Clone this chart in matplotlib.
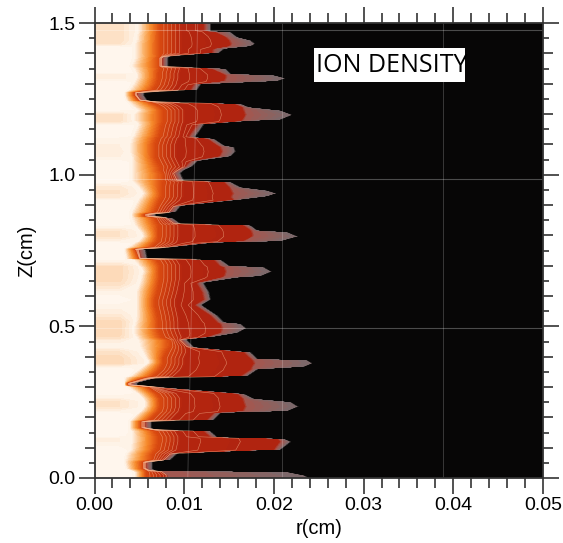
import numpy as np
import matplotlib
matplotlib.use('Agg')
import matplotlib.pyplot as plt
from matplotlib.colors import LinearSegmentedColormap
from matplotlib.patches import Rectangle
from matplotlib.ticker import MultipleLocator

plt.rcParams['font.family'] = ['Liberation Sans', 'DejaVu Sans']

z_rows = [
    1.500, 1.475, 1.471, 1.455, 1.444, 1.431, 1.422, 1.413, 1.400, 1.389,
    1.384, 1.358, 1.351, 1.334, 1.329, 1.318, 1.307, 1.296, 1.279, 1.270, 1.263, 1.246,
    1.241, 1.235, 1.224, 1.213, 1.197, 1.180, 1.175, 1.164, 1.125,
    1.120, 1.098, 1.092, 1.076, 1.059, 1.043, 1.026, 1.013, 1.004,
    0.982, 0.977, 0.960, 0.949, 0.938, 0.927, 0.916, 0.895, 0.875, 0.869, 0.864,
    0.859, 0.840, 0.834, 0.818, 0.812, 0.796, 0.779, 0.774, 0.760, 0.754, 0.752, 0.724,
    0.721, 0.702, 0.696, 0.680, 0.664, 0.659, 0.642, 0.614, 0.587, 0.570,
    0.537, 0.515, 0.510, 0.493, 0.477, 0.464, 0.455, 0.433,
    0.416, 0.395, 0.389, 0.378, 0.365, 0.356, 0.334, 0.329, 0.312, 0.307,
    0.301, 0.279, 0.263, 0.252, 0.235, 0.219, 0.213, 0.191,
    0.186, 0.166, 0.160, 0.155, 0.136, 0.131, 0.120, 0.092, 0.079, 0.059,
    0.052, 0.032, 0.026, 0.021, 0.010, 0.000,
]
# Внешняя граница плазмы
r_edge = [
    12.88, 12.88, 15.11, 15.85, 17.33, 17.89, 17.33, 14.36, 13.80, 8.42,
    8.12, 8.12, 14.55, 15.11, 19.94, 21.35, 20.31, 11.76, 11.39, 5.44, 5.44, 5.82,
    7.30, 16.22, 17.15, 20.68, 22.09, 20.68, 16.96, 12.13, 11.20,
    13.25, 14.36, 15.48, 15.66, 15.11, 11.39, 10.83, 9.90, 9.53,
    9.90, 15.11, 16.22, 19.19, 20.31, 19.19, 16.22, 9.53, 8.97, 6.74, 6.74,
    8.60, 9.53, 17.33, 18.08, 21.42, 22.72, 20.68, 13.25, 8.79, 5.44, 5.63, 5.82,
    14.00, 14.92, 18.82, 19.75, 18.45, 15.85, 12.13, 12.69, 12.88, 11.95,
    13.62, 14.36, 16.22, 16.89, 15.85, 13.25, 10.28, 11.02,
    17.33, 18.08, 23.65, 24.32, 23.28, 18.08, 16.96, 6.93, 4.70, 4.70,
    7.30, 16.59, 17.71, 21.79, 22.72, 21.42, 13.99, 13.25,
    6.26, 6.26, 7.30, 12.88, 13.62, 21.05, 21.90, 20.68, 9.16, 8.42,
    6.37, 6.37, 6.74, 21.42, 23.28, 24.00,
]
# Конец сплошной красной области
r_body = [
    12.2, 12.2, 13.5, 14.6, 15.0, 15.2, 15.0, 13.2, 13.1, 7.7,
    7.5, 7.5, 13.0, 14.3, 14.6, 14.6, 14.4, 11.06, 10.7, 4.7, 4.7, 5.1,
    6.6, 15.5, 16.45, 16.6, 16.8, 16.5, 16.26, 11.43, 10.5,
    12.55, 13.66, 14.0, 14.2, 13.9, 10.69, 10.13, 9.2, 8.83,
    9.2, 14.41, 15.0, 15.2, 15.4, 15.2, 15.5, 8.83, 8.27, 6.0, 6.0,
    7.9, 8.83, 16.63, 17.38, 17.5, 17.6, 16.5, 12.55, 8.09, 4.74, 4.9, 5.12,
    13.3, 13.9, 14.4, 14.6, 14.4, 14.0, 11.43, 11.99, 12.18, 11.25,
    12.92, 13.66, 14.0, 14.2, 14.0, 12.55, 9.58, 10.32,
    16.63, 17.38, 17.6, 17.8, 17.5, 17.38, 16.26, 6.2, 4.0, 4.0,
    6.6, 15.89, 16.5, 16.6, 16.8, 16.5, 13.29, 12.55,
    5.56, 5.56, 6.6, 12.18, 12.92, 20.35, 20.7, 19.98, 8.46, 7.72,
    5.67, 5.67, 6.04, 7.5, 8.0, 8.0,
]
# Граница белого ядра
r_core = [
    4.89, 4.89, 4.89, 4.70, 4.70, 4.52, 4.52, 4.52, 4.52, 4.52,
    4.52, 4.14, 4.40, 4.70, 4.70, 4.70, 4.50, 4.30, 3.90, 3.40, 3.40, 3.60,
    3.80, 4.00, 4.40, 4.89, 4.40, 4.40, 4.70, 4.89, 4.30,
    4.14, 3.96, 3.96, 3.96, 4.14, 4.14, 4.14, 4.14, 4.14,
    4.14, 4.30, 4.89, 5.20, 5.44, 5.20, 4.90, 4.50, 4.14, 4.14, 4.14,
    4.14, 4.40, 4.50, 5.00, 5.20, 5.44, 4.90, 4.50, 3.80, 3.40, 3.40, 3.60,
    4.40, 4.90, 5.20, 5.44, 5.20, 5.20, 5.07, 4.70, 4.70, 4.70,
    4.70, 4.60, 4.52, 4.40, 4.40, 4.70, 4.90, 5.07,
    5.40, 5.80, 6.00, 6.00, 5.40, 5.00, 3.96, 3.40, 3.40, 3.40,
    3.80, 4.89, 5.44, 5.63, 5.63, 5.20, 4.90, 4.14,
    3.96, 3.96, 3.96, 4.14, 4.14, 4.14, 4.14, 4.00, 3.60, 3.40,
    3.40, 3.60, 4.14, 4.52, 4.52, 4.52,
]
# Начало красной области
r_red = [
    7.30, 7.30, 7.30, 7.30, 7.30, 7.30, 7.30, 7.30, 7.30, 7.40,
    7.20, 7.20, 7.30, 7.12, 7.12, 7.12, 7.00, 6.90, 6.50, 4.50, 4.50, 5.00,
    6.20, 6.60, 7.30, 7.67, 7.67, 7.67, 7.67, 7.50, 7.20,
    7.00, 6.74, 6.74, 6.74, 6.74, 7.00, 7.30, 7.40, 7.67,
    7.67, 7.60, 7.50, 7.49, 7.49, 7.49, 7.30, 7.00, 6.74, 5.60, 5.60,
    6.74, 7.00, 7.12, 7.12, 7.12, 7.12, 7.00, 6.80, 6.37, 4.50, 4.60, 5.00,
    6.90, 7.30, 7.30, 7.30, 7.30, 7.30, 7.20, 7.00, 6.74, 6.74,
    7.00, 7.12, 7.12, 7.12, 7.30, 7.50, 8.42, 8.42,
    8.00, 7.67, 7.67, 7.67, 7.49, 7.30, 6.50, 5.60, 3.70, 3.70,
    6.00, 6.90, 7.30, 7.30, 7.30, 7.12, 6.90, 6.19,
    5.20, 5.20, 6.30, 6.74, 7.12, 7.12, 7.12, 6.90, 6.50, 6.37,
    5.40, 5.40, 5.80, 5.80, 5.80, 5.80,
]
# Уровень у оси r = 0 (персиковые полосы)
level_axis = [
    .12, .12, .12, .12, .12, .10, 0, 0, 0, 0,
    0, 0, 0, 0, .06, .06, 0, 0, 0, 0, 0, 0,
    0, 0, 0, 0, .12, .12, .10, 0, 0,
    .03, .05, .05, .06, .05, 0, 0, 0, 0,
    0, 0, .08, .10, .10, .08, 0, 0, 0, 0, 0,
    0, 0, 0, .08, .10, .10, .03, 0, 0, 0, 0, 0,
    0, .10, .14, .14, .14, .14, .12, .04, 0, .03,
    .08, .14, .14, .14, .14, .12, .06, .03,
    .10, .14, .14, .14, .02, 0, 0, 0, 0, 0,
    0, 0, .05, .10, .10, .03, 0, 0,
    0, 0, 0, 0, .02, .05, .05, 0, 0, 0,
    0, 0, 0, 0, 0, 0,
]

# Линии расчетной сетки поверх поля
grid_z = [1.477, 0.985, 0.493]
grid_r_top = [0.0115, 0.0209, 0.0389]
grid_r_bottom = [0.0104, 0.0209, 0.0389]

colors = [(0.0, '#fff7f0'), (0.05, '#fef1e4'), (0.13, '#fddcbc'), (0.28, '#fbb56e'),
          (0.45, '#f68a2c'), (0.6, '#e8651a'), (0.72, '#d94a10'), (0.95, '#b5250f'),
          (1.0, '#ae2410'), (1.15, '#a5564e'), (1.3, '#7a6a6c'), (1.38, '#2a2525'),
          (1.45, '#000000')]
level_max = 1.45
cmap = LinearSegmentedColormap.from_list(
    'ion', [(v / level_max, c) for v, c in colors], N=512)

z = np.array(z_rows)
edge = np.array(r_edge) * 1e-3
body = np.minimum(np.array(r_body) * 1e-3, edge - 4e-4)
red = np.minimum(np.array(r_red) * 1e-3, body - 5e-5)
core = np.minimum(np.array(r_core) * 1e-3, red - 5e-5)
full = np.minimum(red + 2.5e-3, body - 3e-5)
zero = np.zeros_like(z)

# Криволинейная сетка: каждая колонка - своя граница, у каждой свой уровень
columns = [zero, np.full_like(z, 2.8e-3), core, red, full, body, body + 3e-4,
           edge, edge + 2.5e-4, np.full_like(z, 0.0505)]
X = np.column_stack(columns)
Y = np.column_stack([z] * len(columns))
axis_level = np.array(level_axis)
field_cols = [axis_level, axis_level, zero + 0.03, zero + 0.72, zero + 0.95, zero + 1.0,
              zero + 1.15, zero + 1.3, zero + 1.45, zero + 1.45]
V = np.column_stack(field_cols)

fig = plt.figure(figsize=(5.63, 5.43), dpi=100)
ax = fig.add_axes([94.5 / 563, 1 - 478 / 543, 448.5 / 563, 455 / 543])
ax.contourf(X, Y, V, levels=np.linspace(0, level_max, 59), cmap=cmap, vmin=0, vmax=level_max)
ax.contour(X, Y, V, levels=[0.76, 0.8, 0.84, 0.88, 0.92, 0.96, 0.98],
           colors='#f6b48c', linewidths=0.4, alpha=0.65)

for zg in grid_z:
    ax.axhline(zg, color='white', lw=0.8, alpha=0.28)
for top, bottom in zip(grid_r_top, grid_r_bottom):
    ax.plot([bottom, top], [0, 1.5], color='white', lw=0.7, alpha=0.2)

ax.set_xlim(0, 0.05)
ax.set_ylim(0, 1.5)
ax.set_xlabel('r(cm)', fontsize=14.5, labelpad=4)
ax.set_ylabel('Z(cm)', fontsize=14.5, labelpad=9)

ax.xaxis.set_major_locator(MultipleLocator(0.01))
ax.xaxis.set_minor_locator(MultipleLocator(0.002))
ax.yaxis.set_major_locator(MultipleLocator(0.5))
ax.yaxis.set_minor_locator(MultipleLocator(0.05))
ax.xaxis.set_major_formatter('{x:.2f}')
ax.yaxis.set_major_formatter('{x:.1f}')
ax.tick_params(which='both', direction='out', top=True, right=True, color='#333333', width=1.2)
ax.tick_params(which='major', length=11.5, labelsize=14, pad=2)
ax.tick_params(axis='x', which='minor', length=7.5)
ax.tick_params(axis='y', which='minor', length=4.3)
# Каждое 0.1 по оси Z длиннее остальных
for tick, loc in zip(ax.yaxis.get_minor_ticks(), ax.yaxis.get_minorticklocs()):
    if abs(loc / 0.1 - round(loc / 0.1)) < 1e-6:
        tick.tick1line.set_markersize(7.5)
        tick.tick2line.set_markersize(7.5)
for spine in ax.spines.values():
    spine.set_linewidth(1.3)
    spine.set_color('#333333')

ax.add_patch(Rectangle((0.489, 0.870), 0.336, 0.075, transform=ax.transAxes,
                       facecolor='white', edgecolor='none', zorder=5))
ax.text(0.662, 0.906, 'ION DENSITY', transform=ax.transAxes, ha='center', va='center',
        fontsize=18, family='Open Sans', color='black', zorder=6)

fig.savefig('out.png', dpi=100)
